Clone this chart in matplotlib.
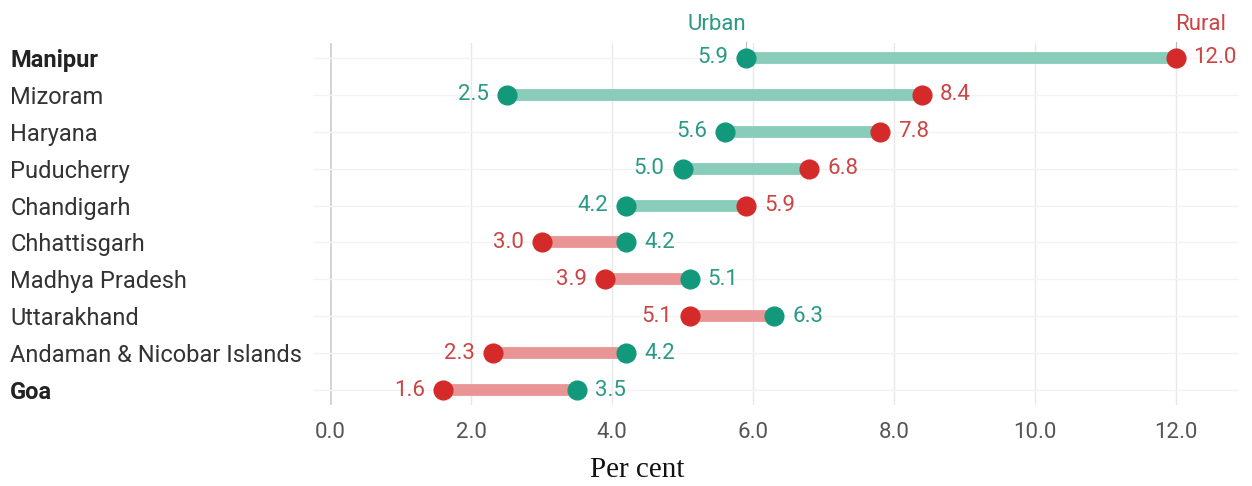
import matplotlib.pyplot as plt

states = ['Manipur', 'Mizoram', 'Haryana', 'Puducherry', 'Chandigarh',
          'Chhattisgarh', 'Madhya Pradesh', 'Uttarakhand',
          'Andaman & Nicobar Islands', 'Goa']
urban = [5.9, 2.5, 5.6, 5.0, 4.2, 4.2, 5.1, 6.3, 4.2, 3.5]
rural = [12.0, 8.4, 7.8, 6.8, 5.9, 3.0, 3.9, 5.1, 2.3, 1.6]
bold_states = ['Manipur', 'Goa']
xticks = [0, 2, 4, 6, 8, 10, 12]

teal = '#12997b'
teal_light = '#88ccb9'
teal_text = '#2a9a84'
red = '#d42a2a'
red_light = '#e99595'
red_text = '#cc4444'

plt.rcParams['font.family'] = ['Roboto', 'DejaVu Sans']
fs = 16

fig = plt.figure(figsize=(12.52, 4.86), dpi=100)
ax = fig.add_axes([0.25, 0.1667, 0.7396, 0.7448])

for i, (u, r) in enumerate(zip(urban, rural)):
    bar_col = teal_light if r > u else red_light
    ax.plot([u, r], [i, i], color=bar_col, lw=8.5, solid_capstyle='butt', zorder=2)
    ax.plot(u, i, 'o', color=teal, ms=13.5, zorder=3)
    ax.plot(r, i, 'o', color=red, ms=13.5, zorder=3)
    lo, hi = (u, r) if u < r else (r, u)
    lo_col, hi_col = (teal_text, red_text) if u < r else (red_text, teal_text)
    ax.annotate('%.1f' % lo, (lo, i), xytext=(-13, 0), textcoords='offset points',
                ha='right', va='center', color=lo_col, fontsize=fs)
    ax.annotate('%.1f' % hi, (hi, i), xytext=(13, 0), textcoords='offset points',
                ha='left', va='center', color=hi_col, fontsize=fs)

# Urban / Rural header above the first row
ax.annotate('Urban', (urban[0], -0.4), xytext=(0, 6), textcoords='offset points',
            ha='right', va='bottom', color=teal_text, fontsize=fs, annotation_clip=False)
ax.annotate('Rural', (rural[0], -0.4), xytext=(0, 6), textcoords='offset points',
            ha='left', va='bottom', color=red_text, fontsize=fs, annotation_clip=False)
for xv in (urban[0], rural[0]):
    ax.plot([xv, xv], [-0.42, -0.15], color='#bbbbbb', lw=0.8, clip_on=False, zorder=1)

ax.set_xlim(-0.25, 12.9)
ax.set_ylim(9.4, -0.4)
ax.set_xticks(xticks)
ax.set_xticklabels(['%.1f' % t for t in xticks], fontsize=fs, color='#555555')
ax.set_yticks(range(len(states)))
ax.set_yticklabels(states, fontsize=17, color='#333333')
for lab in ax.get_yticklabels():
    lab.set_ha('left')
    if lab.get_text() in bold_states:
        lab.set_fontweight('bold')
        lab.set_color('#222222')
ax.tick_params(axis='y', length=0, pad=218)
ax.tick_params(axis='x', length=0, pad=12)

for t in xticks:
    ax.axvline(t, color='#cccccc' if t == 0 else '#e8e8e8', lw=1.2 if t == 0 else 1, zorder=0)
for i in range(len(states)):
    ax.axhline(i, color='#f3f3f3', lw=1, zorder=0)
for s in ax.spines.values():
    s.set_visible(False)

fig.text(0.509, 0.033, 'Per cent', ha='center', va='center',
         family='Liberation Serif', fontsize=21, color='#111111')

fig.savefig('out.png', dpi=100)
